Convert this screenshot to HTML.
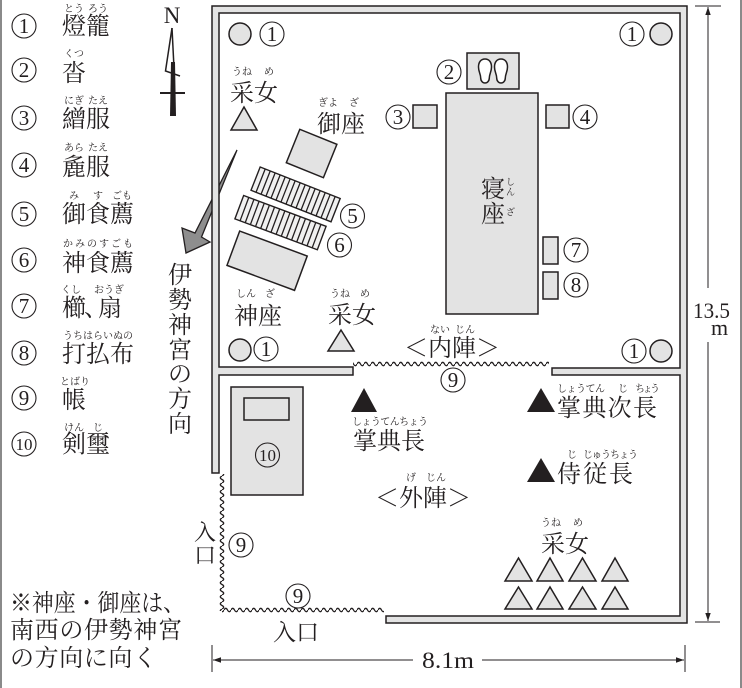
<!DOCTYPE html>
<html><head><meta charset="utf-8"><style>
html,body{margin:0;padding:0;background:#fff;}
svg{display:block}
text{font-family:"Liberation Serif","Noto Serif CJK SC",serif;fill:#231f20}
.j{font-size:24px}
.r{font-size:10px;text-anchor:middle}
.n{font-size:21px;text-anchor:middle}
.t{font-size:17px;text-anchor:middle}
.c{fill:#fff;stroke:#231f20;stroke-width:1.1}
.g{fill:#e3e3e3;stroke:#231f20;stroke-width:1.5}
.m{text-anchor:middle}
</style></head><body>
<svg width="742" height="688" viewBox="0 0 742 688" xmlns="http://www.w3.org/2000/svg">
<defs>
<pattern id="wh" patternUnits="userSpaceOnUse" x="0" y="0" width="7" height="8"><path d="M0 4 Q1.75 0.6 3.5 4 T7 4" fill="none" stroke="#231f20" stroke-width="1.3"/></pattern>
<pattern id="wh2" patternUnits="userSpaceOnUse" x="0" y="-2" width="7" height="8"><path d="M0 4 Q1.75 0.6 3.5 4 T7 4" fill="none" stroke="#231f20" stroke-width="1.3"/></pattern>
<pattern id="wv" patternUnits="userSpaceOnUse" x="2" y="0" width="8" height="7"><path d="M4 0 Q0.6 1.75 4 3.5 T4 7" fill="none" stroke="#231f20" stroke-width="1.3"/></pattern>
</defs>
<rect width="742" height="688" fill="#fff"/>
<line x1="1" y1="0" x2="1" y2="688" stroke="#8a8a8a" stroke-width="2"/>
<line x1="741" y1="0" x2="741" y2="688" stroke="#8a8a8a" stroke-width="2"/>

<!-- Legend -->
<g>
<circle class="c" cx="24" cy="26" r="12"/><text class="n" x="24" y="33">1</text>
<circle class="c" cx="24" cy="70" r="12"/><text class="n" x="24" y="77">2</text>
<circle class="c" cx="24" cy="118" r="12"/><text class="n" x="24" y="125">3</text>
<circle class="c" cx="24" cy="165" r="12"/><text class="n" x="24" y="172">4</text>
<circle class="c" cx="24" cy="214" r="12"/><text class="n" x="24" y="221">5</text>
<circle class="c" cx="24" cy="260" r="12"/><text class="n" x="24" y="267">6</text>
<circle class="c" cx="24" cy="306" r="12"/><text class="n" x="24" y="313">7</text>
<circle class="c" cx="24" cy="353" r="12"/><text class="n" x="24" y="360">8</text>
<circle class="c" cx="24" cy="398" r="12"/><text class="n" x="24" y="405">9</text>
<circle class="c" cx="24" cy="444" r="12"/><text class="t" x="24" y="450" textLength="17" lengthAdjust="spacingAndGlyphs">10</text>

<text class="j" x="62" y="34">燈籠</text>
<text class="r" x="74" y="12">とう</text><text class="r" x="98" y="12">ろう</text>
<text class="j" x="62" y="81">沓</text>
<text class="r" x="74" y="57">くつ</text>
<text class="j" x="62" y="127">繒服</text>
<text class="r" x="74" y="104">にぎ</text><text class="r" x="98" y="104">たえ</text>
<text class="j" x="62" y="175">麁服</text>
<text class="r" x="74" y="151">あら</text><text class="r" x="98" y="151">たえ</text>
<text class="j" x="62" y="222">御食薦</text>
<text class="r" x="74" y="199">み</text><text class="r" x="98" y="199">す</text><text class="r" x="122" y="199">ごも</text>
<text class="j" x="62" y="271">神食薦</text>
<text style="font-size:10px" x="63" y="247" textLength="70" lengthAdjust="spacing">かみのすごも</text>
<text class="j" x="62" y="316">櫛</text><text class="j" x="84" y="316">、</text><text class="j" x="98" y="316">扇</text>
<text class="r" x="71" y="293">くし</text><text class="r" x="109" y="293">おうぎ</text>
<text class="j" x="62" y="362">打払布</text>
<text style="font-size:10px" x="63" y="339" textLength="70" lengthAdjust="spacing">うちはらいぬの</text>
<text class="j" x="62" y="408">帳</text>
<text class="r" x="75" y="385">とばり</text>
<text class="j" x="62" y="452">剣璽</text>
<text class="r" x="74" y="431">けん</text><text class="r" x="98" y="431">じ</text>
</g>

<!-- Compass -->
<text x="172" y="23" class="m" style="font-size:23px">N</text>
<path d="M172 28 L165.5 71 L180 76" fill="none" stroke="#231f20" stroke-width="1.5"/>
<path d="M172 28 L174 68" fill="none" stroke="#231f20" stroke-width="1.5"/>
<polygon points="171,62 175,62 176,116 170,116" fill="#231f20"/>
<line x1="160" y1="93" x2="185" y2="93" stroke="#231f20" stroke-width="2"/>

<!-- Direction arrow -->
<polygon points="237,150 201.5,237 210,242 186,253 182,228 195,233" fill="#8e8e8e" stroke="#231f20" stroke-width="1.3" stroke-linejoin="miter"/>
<g class="j">
<text class="m" x="180" y="283">伊</text>
<text class="m" x="180" y="308">勢</text>
<text class="m" x="180" y="333">神</text>
<text class="m" x="180" y="358">宮</text>
<text class="m" x="180" y="382">の</text>
<text class="m" x="180" y="407">方</text>
<text class="m" x="180" y="432">向</text>
</g>

<!-- Walls -->
<path class="g" d="M212 473 L212 6 L687 6 L687 623 L386 623 L386 616 L680 616 L680 375 L552 375 L552 368 L680 368 L680 13 L219 13 L219 367 L353 367 L353 375 L219 375 L219 473 Z"/>

<!-- Curtains -->
<rect x="353" y="360" width="196" height="8" fill="url(#wh)"/>
<rect x="218" y="474" width="8" height="137" fill="url(#wv)"/>
<rect x="222" y="606" width="162" height="8" fill="url(#wh2)"/>

<!-- Lanterns -->
<circle class="g" cx="240" cy="34" r="11"/>
<circle class="g" cx="661" cy="34" r="11"/>
<circle class="g" cx="240" cy="350" r="11"/>
<circle class="g" cx="661" cy="351" r="11"/>
<circle class="c" cx="272" cy="34" r="12"/><text class="n" x="272" y="41">1</text>
<circle class="c" cx="632" cy="34" r="12"/><text class="n" x="632" y="41">1</text>
<circle class="c" cx="266" cy="349" r="12"/><text class="n" x="266" y="356">1</text>
<circle class="c" cx="634" cy="351" r="12"/><text class="n" x="634" y="358">1</text>

<!-- 2 shoes -->
<rect class="g" x="467" y="53" width="52" height="36"/>
<path d="M485 59 c4 0 6.5 3 6.5 8 c0 5 -2.2 7 -2.2 11 c0 3 -2 5 -4.3 5 c-2.3 0 -4.3 -2 -4.3 -5 c0 -4 -2.2 -6 -2.2 -11 c0 -5 2.5 -8 6.5 -8z" fill="#fff" stroke="#231f20" stroke-width="1.5"/>
<path d="M501 59 c4 0 6.5 3 6.5 8 c0 5 -2.2 7 -2.2 11 c0 3 -2 5 -4.3 5 c-2.3 0 -4.3 -2 -4.3 -5 c0 -4 -2.2 -6 -2.2 -11 c0 -5 2.5 -8 6.5 -8z" fill="#fff" stroke="#231f20" stroke-width="1.5"/>
<circle class="c" cx="449" cy="72" r="12"/><text class="n" x="449" y="79">2</text>

<!-- Bed -->
<rect class="g" x="446" y="93" width="92" height="221"/>
<text class="j" x="481" y="197">寝</text>
<text class="j" x="481" y="222">座</text>
<text style="font-size:9px" x="506" y="185">し</text>
<text style="font-size:9px" x="506" y="195">ん</text>
<text style="font-size:9px" x="506" y="215">ざ</text>

<!-- 3,4 -->
<rect class="g" x="413" y="105" width="24" height="23"/>
<circle class="c" cx="398" cy="117" r="12"/><text class="n" x="398" y="124">3</text>
<rect class="g" x="546" y="105" width="23" height="23"/>
<circle class="c" cx="585" cy="117" r="12"/><text class="n" x="585" y="124">4</text>

<!-- 7,8 -->
<rect class="g" x="543" y="237" width="15" height="27"/>
<circle class="c" cx="576" cy="250" r="12"/><text class="n" x="576" y="257">7</text>
<rect class="g" x="543" y="272" width="15" height="27"/>
<circle class="c" cx="576" cy="285" r="12"/><text class="n" x="576" y="292">8</text>

<!-- Mi-za -->
<g transform="translate(311.6,153.5) rotate(22)"><rect class="g" x="-20" y="-18" width="40" height="36"/></g>
<text class="j" x="317" y="132">御座</text>
<text class="r" x="328" y="106">ぎよ</text><text class="r" x="354" y="106">ざ</text>

<!-- Mats 5 -->
<g transform="translate(295.6,194.4) rotate(21.5)">
<rect x="-43" y="-12.5" width="86" height="25" fill="#f0f0f0" stroke="#231f20" stroke-width="1.4"/>
<path d="M-37.6 -12.5v25M-32.2 -12.5v25M-26.9 -12.5v25M-21.5 -12.5v25M-16.1 -12.5v25M-10.8 -12.5v25M-5.4 -12.5v25M0 -12.5v25M5.4 -12.5v25M10.8 -12.5v25M16.1 -12.5v25M21.5 -12.5v25M26.9 -12.5v25M32.2 -12.5v25M37.6 -12.5v25" stroke="#231f20" stroke-width="1.3"/>
</g>
<g transform="translate(280.5,222.6) rotate(20.5)">
<rect x="-44" y="-12.5" width="88" height="25" fill="#f0f0f0" stroke="#231f20" stroke-width="1.4"/>
<path d="M-38.5 -12.5v25M-33 -12.5v25M-27.5 -12.5v25M-22 -12.5v25M-16.5 -12.5v25M-11 -12.5v25M-5.5 -12.5v25M0 -12.5v25M5.5 -12.5v25M11 -12.5v25M16.5 -12.5v25M22 -12.5v25M27.5 -12.5v25M33 -12.5v25M38.5 -12.5v25" stroke="#231f20" stroke-width="1.3"/>
</g>
<circle class="c" cx="352.5" cy="216" r="12"/><text class="n" x="352.5" y="223">5</text>
<circle class="c" cx="339.5" cy="245" r="12"/><text class="n" x="339.5" y="252">6</text>

<!-- Shin-za -->
<g transform="translate(267.1,260.7) rotate(20.3)"><rect class="g" x="-36" y="-18.3" width="72" height="36.6"/></g>
<text class="j" x="234" y="324">神座</text>
<text class="r" x="246" y="297">しん</text><text class="r" x="270" y="297">ざ</text>

<!-- Uneme -->
<text class="j" x="230" y="101">采女</text>
<text class="r" x="242" y="75">うね</text><text class="r" x="269" y="75">め</text>
<polygon class="g" points="244,107 231,130 257,130"/>
<text class="j" x="328" y="323">采女</text>
<text class="r" x="340" y="297">うね</text><text class="r" x="365" y="297">め</text>
<polygon class="g" points="341,330 328,351 354,351"/>

<!-- Naijin -->
<text class="j" x="404" y="356">＜内陣＞</text>
<text class="r" x="440" y="333">ない</text><text class="r" x="465" y="333">じん</text>
<circle class="c" cx="453" cy="380" r="12"/><text class="n" x="453" y="387">9</text>

<!-- 10 -->
<rect class="g" x="231" y="387" width="72" height="108"/>
<rect class="g" x="244" y="398" width="45" height="22"/>
<circle cx="267.5" cy="455" r="12" fill="none" stroke="#231f20" stroke-width="1.1"/><text class="t" x="267.5" y="461" textLength="17" lengthAdjust="spacingAndGlyphs">10</text>

<!-- Officials -->
<polygon points="364,388 351,412 377,412" fill="#231f20"/>
<text style="font-size:10px" x="352" y="425" textLength="76" lengthAdjust="spacing">しょうてんちょう</text>
<text class="j" x="353" y="449">掌典長</text>

<polygon points="541,388 527,412 555,412" fill="#231f20"/>
<text style="font-size:10px" x="557" y="392" textLength="48" lengthAdjust="spacing">しょうてん</text>
<text style="font-size:10px" x="618" y="392">じ</text>
<text style="font-size:10px" x="635" y="392" textLength="25" lengthAdjust="spacing">ちょう</text>
<text class="j" x="557" y="416" textLength="100" lengthAdjust="spacing">掌典次長</text>

<polygon points="541,458 527,482 555,482" fill="#231f20"/>
<text style="font-size:10px" x="567" y="458">じ</text>
<text style="font-size:10px" x="583" y="458" textLength="55" lengthAdjust="spacing">じゅうちょう</text>
<text class="j" x="557" y="482" textLength="76" lengthAdjust="spacing">侍従長</text>

<!-- Gejin -->
<text class="j" x="375" y="506">＜外陣＞</text>
<text class="r" x="411" y="481">げ</text><text class="r" x="436" y="481">じん</text>

<!-- Uneme bottom -->
<text class="j" x="541" y="552">采女</text>
<text class="r" x="551" y="526">うね</text><text class="r" x="578" y="526">め</text>
<polygon class="g" points="518.5,558 505,581 532,581"/>
<polygon class="g" points="550,558 537,581 563,581"/>
<polygon class="g" points="582.5,558 569,581 596,581"/>
<polygon class="g" points="615,558 602,581 628,581"/>
<polygon class="g" points="518.5,587 505,609 532,609"/>
<polygon class="g" points="550,587 537,609 563,609"/>
<polygon class="g" points="582.5,587 569,609 596,609"/>
<polygon class="g" points="615,587 602,609 628,609"/>

<!-- Entrances -->
<text style="font-size:22px" x="194" y="540">入</text>
<text style="font-size:22px" x="194" y="563">口</text>
<circle class="c" cx="241" cy="545" r="12"/><text class="n" x="241" y="552">9</text>
<circle class="c" cx="298" cy="596" r="12"/><text class="n" x="298" y="603">9</text>
<text style="font-size:23px" x="273" y="640">入口</text>

<!-- Dimensions -->
<g stroke="#231f20" stroke-width="1">
<line x1="695" y1="6" x2="721" y2="6"/>
<line x1="695" y1="622" x2="720" y2="622"/>
<line x1="708" y1="7" x2="708" y2="288"/>
<line x1="708" y1="342" x2="708" y2="621"/>
<line x1="212" y1="645" x2="212" y2="672"/>
<line x1="685" y1="645" x2="685" y2="672"/>
<line x1="213" y1="660" x2="413" y2="660"/>
<line x1="482" y1="660" x2="684" y2="660"/>
</g>
<polygon points="708,7 705.3,15 710.7,15" fill="#231f20"/>
<polygon points="708,621 705.3,613 710.7,613" fill="#231f20"/>
<polygon points="213,660 221,657.3 221,662.7" fill="#231f20"/>
<polygon points="684,660 676,657.3 676,662.7" fill="#231f20"/>
<text x="693" y="318" style="font-size:22px" textLength="37" lengthAdjust="spacingAndGlyphs">13.5</text>
<text x="711" y="335" style="font-size:22px">m</text>
<text x="422" y="668" style="font-size:23px" textLength="52" lengthAdjust="spacingAndGlyphs">8.1m</text>

<!-- Note -->
<text class="j" x="10" y="611" textLength="175" lengthAdjust="spacingAndGlyphs">※神座・御座は、</text>
<text class="j" x="10" y="638" textLength="172" lengthAdjust="spacing">南西の伊勢神宮</text>
<text class="j" x="10" y="666" textLength="147" lengthAdjust="spacing">の方向に向く</text>
</svg>
</body></html>
